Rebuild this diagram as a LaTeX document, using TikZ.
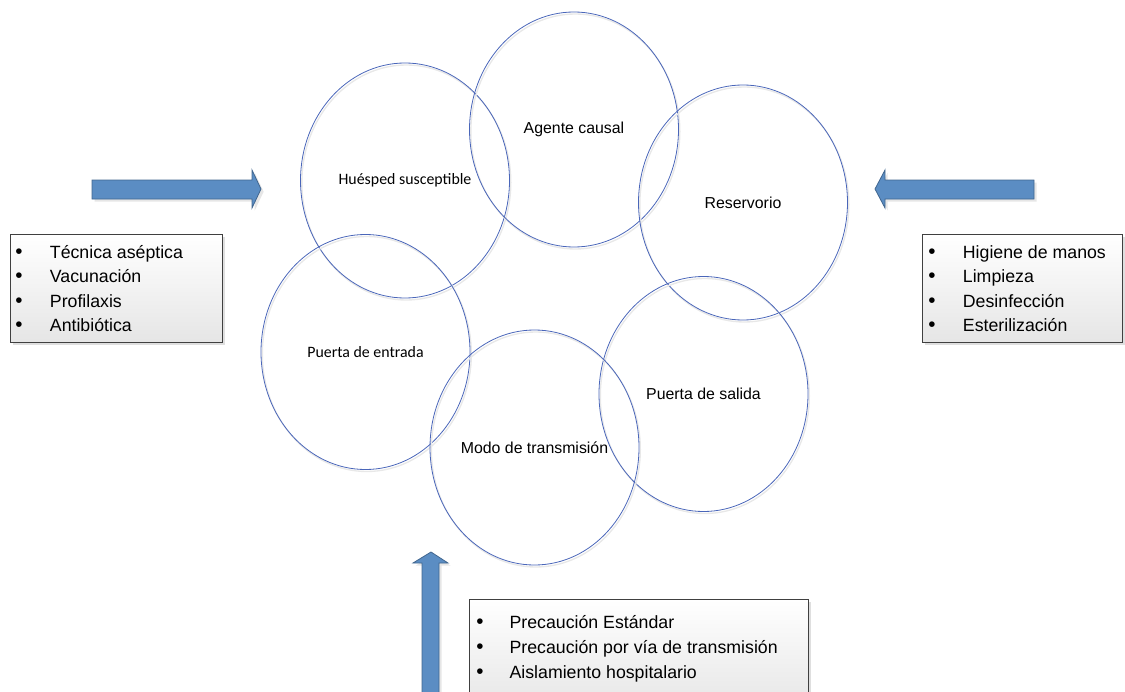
\documentclass[tikz,border=0pt]{standalone}
\usepackage{fontspec}
\setmainfont{Liberation Sans}
\newfontfamily\calibri{Carlito}
\usetikzlibrary{shapes.geometric,shadows}
\definecolor{ringblue}{HTML}{4A66B9}
\definecolor{arrowfill}{HTML}{5B8DC3}
\definecolor{arrowline}{HTML}{41668F}
\newcommand\itemdot{{\fontsize{15.5}{18}\selectfont •}}

\begin{document}
\begin{tikzpicture}[x=0.75pt, y=-0.75pt,
  ring/.style = {draw=ringblue, line width=0.6pt, ellipse, minimum width=156.75pt, minimum height=176.25pt, inner sep=0pt,
    preaction={draw=black!9, line width=1pt, transform canvas={shift={(1pt,-1.5pt)}}},
    font=\fontsize{11.9}{14}\selectfont},
  blockarrow/.style = {fill=arrowfill, draw=arrowline, line width=0.6pt,
    drop shadow={shadow xshift=2pt, shadow yshift=-2pt, opacity=0.2}},
  listbox/.style = {draw=black!75, line width=0.6pt, top color=white, bottom color=black!10, inner sep=0pt, anchor=north west,
    drop shadow={shadow xshift=2pt, shadow yshift=-2pt, opacity=0.25}},
  listtext/.style = {anchor=north west, inner sep=0pt, align=left}]
\useasboundingbox (0,0) rectangle (1125,692);

%% chain links
\node[ring] (huesped) at (405,180.5) {\calibri Huésped susceptible};
\node[ring] (agente) at (574,129.5) {Agente causal};
\node[ring] (reservorio) at (743,202.5) {Reservorio};
\node[ring] (entrada) at (365.5,352) {\calibri Puerta de entrada};
\node[ring] (salida) at (703.5,394) {Puerta de salida};
\node[ring] (modo) at (534.5,447.5) {Modo de transmisión};

%% block arrows
\draw[blockarrow] (92,180) -- (252,180) -- (252,170) -- (261,189) -- (252,208) -- (252,199) -- (92,199) -- cycle;
\draw[blockarrow] (1034,180) -- (885,180) -- (885,170) -- (875,189) -- (885,208) -- (885,199) -- (1034,199) -- cycle;
\draw[blockarrow] (422,700) -- (422,563) -- (413,563) -- (431,552) -- (448,563) -- (439,563) -- (439,700) -- cycle;

%% measure boxes
\node[listbox, minimum width=159pt, minimum height=81pt] (hostbox) at (10,234) {};
\node[listtext, font=\fontsize{13.3}{18.3}\selectfont] (hostlist) at (15,241)
  {\begin{tabular}{@{}p{26pt}@{}l@{}}
   \itemdot & Técnica aséptica\\
   \itemdot & Vacunación\\
   \itemdot & Profilaxis\\
   \itemdot & Antibiótica
   \end{tabular}};

\node[listbox, minimum width=150pt, minimum height=81pt] (sourcebox) at (922,234) {};
\node[listtext, font=\fontsize{13.3}{18.3}\selectfont] (sourcelist) at (928,241)
  {\begin{tabular}{@{}p{26pt}@{}l@{}}
   \itemdot & Higiene de manos\\
   \itemdot & Limpieza\\
   \itemdot & Desinfección\\
   \itemdot & Esterilización
   \end{tabular}};

\node[listbox, minimum width=254.25pt, minimum height=84pt] (routebox) at (469,599) {};
\node[listtext, font=\fontsize{13.3}{18.75}\selectfont] (routelist) at (476,611)
  {\begin{tabular}{@{}p{25pt}@{}l@{}}
   \itemdot & Precaución Estándar\\
   \itemdot & Precaución por vía de transmisión\\
   \itemdot & Aislamiento hospitalario
   \end{tabular}};

\end{tikzpicture}
\end{document}
